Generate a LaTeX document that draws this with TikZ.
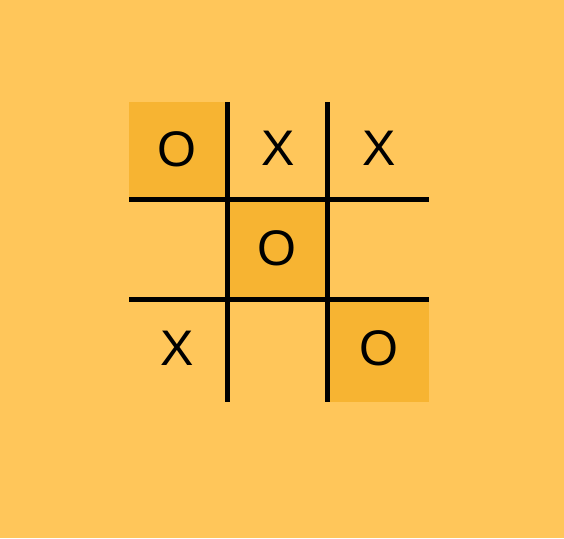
\documentclass[tikz,border=0pt]{standalone}
\usepackage{fontspec}
\setmainfont{Liberation Sans}
\definecolor{bg}{HTML}{FFC65A}
\definecolor{hl}{HTML}{F7B432}
\begin{document}
\begin{tikzpicture}[x=1pt,y=-1pt,
  gridline/.style={line width=5pt,black},
  cellmark/.style={font=\fontsize{50}{50}\selectfont,inner sep=0pt,anchor=center}]
\fill[bg] (0,0) rectangle (564,538);
\useasboundingbox (0,0) rectangle (564,538);
% highlighted cells
\fill[hl] (129,102) rectangle (227,199);
\fill[hl] (227,199) rectangle (327,299);
\fill[hl] (327,299) rectangle (429,402);
% grid
\coordinate (v1t) at (227,102); \coordinate (v1b) at (227,402);
\coordinate (v2t) at (327,102); \coordinate (v2b) at (327,402);
\coordinate (h1l) at (129,199); \coordinate (h1r) at (429,199);
\coordinate (h2l) at (129,299); \coordinate (h2r) at (429,299);
\draw[gridline] (v1t) -- (v1b);
\draw[gridline] (v2t) -- (v2b);
\draw[gridline] (h1l) -- (h1r);
\draw[gridline] (h2l) -- (h2r);
% marks
\node[cellmark] (c11) at (177,149) {O};
\node[cellmark] (c12) at (278,148) {X};
\node[cellmark] (c13) at (379,148) {X};
\node[cellmark] (c22) at (277,248) {O};
\node[cellmark] (c31) at (177,348) {X};
\node[cellmark] (c33) at (379,348) {O};
\end{tikzpicture}
\end{document}
